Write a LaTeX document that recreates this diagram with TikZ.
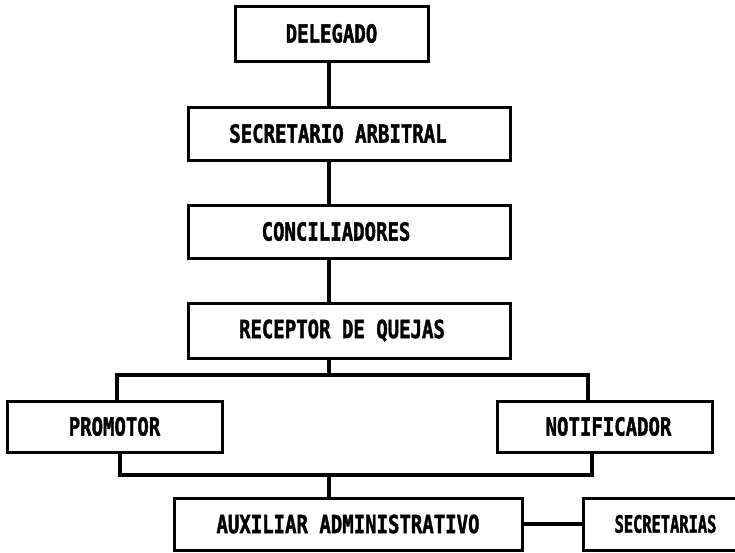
\documentclass[tikz,border=0pt]{standalone}
\usepackage{fontspec}
\newfontfamily\lbl{DejaVu Sans Mono}[FakeStretch=0.76,FakeBold=1.5]
\newfontfamily\lblnarrow{DejaVu Sans Mono}[FakeStretch=0.64,FakeBold=1.5]
\begin{document}
\begin{tikzpicture}[x=1pt,y=-1pt,
  box/.style={draw=black,line width=3pt,rectangle,inner sep=0pt,
    font=\lbl\bfseries\fontsize{25}{25}\selectfont},
  conn/.style={draw=black,line width=3.2pt}]
\useasboundingbox[fill=white] (0,0) rectangle (735,552);
\node[box,minimum width=193pt,minimum height=55pt] (del) at (331.5,33.5) {DELEGADO};
\node[box,minimum width=322pt,minimum height=53pt] (sec) at (349,133.5) {SECRETARIO ARBITRAL\hspace*{22pt}};
\node[box,minimum width=322pt,minimum height=53pt] (con) at (349,231.5) {CONCILIADORES\hspace*{26pt}};
\node[box,minimum width=322pt,minimum height=55pt] (rec) at (349,330.5) {RECEPTOR DE QUEJAS\hspace*{14pt}};
\node[box,minimum width=215pt,minimum height=51pt] (pro) at (114.5,426.5) {PROMOTOR};
\node[box,minimum width=215pt,minimum height=51pt] (not) at (604.5,426.5) {NOTIFICADOR\hspace*{-8pt}};
\node[box,minimum width=348pt,minimum height=52pt] (aux) at (348,524) {AUXILIAR ADMINISTRATIVO};
\node[box,minimum width=157pt,minimum height=52pt,font=\lblnarrow\bfseries\fontsize{24}{24}\selectfont] (sa) at (661.5,524) {SECRETARIAS\hspace*{-8pt}};
\coordinate (spine) at (329,0);
\coordinate (pl) at (117,375);
\coordinate (pr) at (588,375);
\coordinate (ql) at (120,475);
\coordinate (qr) at (592,475);
\draw[conn] (spine |- del.south) -- (spine |- sec.north);
\draw[conn] (spine |- sec.south) -- (spine |- con.north);
\draw[conn] (spine |- con.south) -- (spine |- rec.north);
\draw[conn] (spine |- rec.south) -- (spine |- pl);
\draw[conn] (pro.north -| pl) -- (pl) -- (pr) -- (not.north -| pr);
\draw[conn] (pro.south -| ql) -- (ql) -- (qr) -- (not.south -| qr);
\draw[conn] (spine |- ql) -- (spine |- aux.north);
\draw[conn] (aux.east) -- (sa.west);
\end{tikzpicture}
\end{document}
